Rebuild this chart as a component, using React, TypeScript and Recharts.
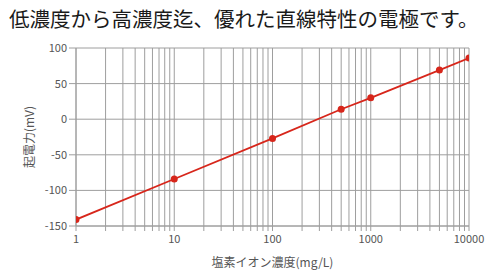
import React from 'react';
import { LineChart, Line, XAxis, YAxis, CartesianGrid } from 'recharts';

const concentration = [1, 10, 100, 500, 1000, 5000, 10000];
const potential = [-141, -84, -27, 14, 30, 69, 86];

const decadeTicks = [1, 10, 100, 1000, 10000];
const yTicks = [-150, -100, -50, 0, 50, 100];

// minor grid positions 1..9 per decade
const logTicks: number[] = [];
for (let d = 1; d < 10000; d *= 10) {
    for (let m = 1; m < 10; m++) logTicks.push(d * m);
}
logTicks.push(10000);

const data = concentration.map((c, i) => ({ c, v: potential[i] }));

const font = '"Noto Sans CJK JP", "Noto Sans", sans-serif';
const gridColor = '#9e9e9e';
const red = '#d7261b';

const App: React.FC = () => {
    return (
        <div style={{ position: 'fixed', left: 0, top: 0, width: 500, height: 277, background: '#fff', fontFamily: font }}>
            <div style={{ position: 'absolute', left: 9, top: 6, fontSize: 20.5, lineHeight: '24px', color: '#1a1a1a', whiteSpace: 'nowrap' }}>
                低濃度から高濃度迄、優れた直線特性の電極です。
            </div>
            <LineChart width={500} height={277} data={data} margin={{ top: 48, right: 31, bottom: 21, left: 16 }}>
                <CartesianGrid stroke={gridColor} strokeWidth={1} horizontal={true} vertical={true} />
                <XAxis
                    dataKey="c"
                    type="number"
                    scale="log"
                    domain={[1, 10000]}
                    ticks={logTicks}
                    interval={0}
                    tickFormatter={(t: number) => (decadeTicks.includes(t) ? String(t) : '')}
                    stroke={gridColor}
                    tickSize={5}
                    tick={{ fill: '#555', fontSize: 11, fontFamily: font, dy: 2 }}
                    label={{ value: '塩素イオン濃度(mg/L)', position: 'insideBottom', offset: -11, fill: '#555', fontSize: 12, fontFamily: font }}
                    allowDataOverflow
                />
                <YAxis
                    type="number"
                    domain={[-150, 100]}
                    ticks={yTicks}
                    interval={0}
                    width={60}
                    stroke={gridColor}
                    tickSize={7}
                    tick={{ fill: '#555', fontSize: 11, fontFamily: font }}
                    label={{ value: '起電力(mV)', angle: -90, position: 'insideLeft', offset: 14, fill: '#555', fontSize: 12, fontFamily: font, style: { textAnchor: 'middle' } }}
                />
                <Line
                    dataKey="v"
                    stroke={red}
                    strokeWidth={1.8}
                    dot={{ r: 3.5, fill: red, stroke: red, strokeWidth: 0 }}
                    isAnimationActive={false}
                />
            </LineChart>
        </div>
    );
};

export default App;
